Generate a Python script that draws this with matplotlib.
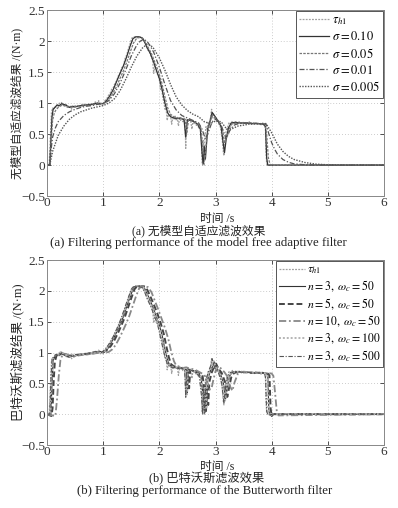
import matplotlib
matplotlib.use("Agg")
import matplotlib.pyplot as plt

plt.rcParams['font.family'] = ['Liberation Serif', 'Noto Sans CJK SC', 'DejaVu Sans']
plt.rcParams['mathtext.fontset'] = 'stix'
plt.rcParams['axes.unicode_minus'] = True

# ---------------- data ----------------
# reference torque tau_h1 (raw)
t_raw = [0, 0.04, 0.06, 0.08, 0.10, 0.12, 0.14, 0.16, 0.18, 0.20, 0.22, 0.24, 0.26, 0.28,
         0.30, 0.32, 0.34, 0.36, 0.38, 0.40, 0.42, 0.44, 0.46, 0.48, 0.50, 0.53, 0.56, 0.59,
         0.62, 0.65, 0.68, 0.71, 0.74, 0.77, 0.80, 0.83, 0.86, 0.89, 0.92, 0.95, 0.98, 1.00,
         1.03, 1.06, 1.09, 1.12, 1.15, 1.18, 1.21, 1.24, 1.27, 1.30, 1.33, 1.36, 1.39, 1.42,
         1.45, 1.48, 1.51, 1.55, 1.60, 1.65, 1.70, 1.73, 1.76, 1.79, 1.82, 1.85, 1.88, 1.90,
         1.92, 1.95, 1.98, 2.00, 2.02, 2.04, 2.06, 2.08, 2.10, 2.12, 2.14, 2.16, 2.18, 2.20,
         2.22, 2.24, 2.26, 2.28, 2.30, 2.32, 2.34, 2.36, 2.38, 2.40, 2.42, 2.44, 2.46, 2.47,
         2.48, 2.50, 2.52, 2.54, 2.56, 2.58, 2.60, 2.62, 2.64, 2.66, 2.68, 2.70, 2.72, 2.74,
         2.75, 2.76, 2.77, 2.78, 2.79, 2.80, 2.81, 2.83, 2.85, 2.87, 2.89, 2.91, 2.93, 2.94,
         2.96, 2.98, 3.00, 3.02, 3.04, 3.06, 3.08, 3.10, 3.12, 3.14, 3.15, 3.16, 3.18, 3.20,
         3.22, 3.24, 3.27, 3.30, 3.33, 3.36, 3.39, 3.42, 3.45, 3.48, 3.51, 3.54, 3.57, 3.60,
         3.63, 3.66, 3.69, 3.72, 3.75, 3.78, 3.81, 3.84, 3.87, 3.88, 3.89, 3.90, 3.91, 3.92,
         4.00, 6.00]
tau_raw = [0, 0.0, 0.45, 0.85, 0.92, 0.89, 0.95, 0.93, 0.97, 0.94, 1.00, 0.96, 1.01, 0.97,
           0.99, 0.95, 0.98, 0.93, 0.96, 0.92, 0.95, 0.90, 0.96, 0.93, 0.96, 0.94, 0.97, 0.95,
           0.98, 0.96, 0.99, 0.96, 0.99, 0.97, 1.00, 0.98, 1.02, 0.99, 1.04, 0.98, 1.00, 0.98,
           1.04, 1.06, 1.12, 1.15, 1.22, 1.25, 1.32, 1.36, 1.44, 1.48, 1.57, 1.60, 1.72, 1.78,
           1.88, 1.96, 2.05, 2.07, 2.06, 2.07, 2.05, 2.00, 1.96, 1.86, 1.84, 1.76, 1.70, 1.48,
           1.60, 1.50, 1.44, 1.38, 1.22, 1.26, 1.10, 1.02, 0.90, 0.92, 0.72, 0.82, 0.78, 0.80,
           0.66, 0.77, 0.74, 0.79, 0.73, 0.77, 0.63, 0.76, 0.72, 0.75, 0.70, 0.76, 0.62, 0.27,
           0.70, 0.75, 0.71, 0.74, 0.70, 0.58, 0.72, 0.67, 0.70, 0.64, 0.67, 0.60, 0.64, 0.50,
           0.40, 0.05, 0.00, 0.40, 0.05, 0.00, 0.45, 0.62, 0.58, 0.70, 0.66, 0.76, 0.90, 0.76,
           0.84, 0.74, 0.78, 0.70, 0.73, 0.66, 0.64, 0.55, 0.42, 0.20, 0.15, 0.35, 0.50, 0.60,
           0.62, 0.69, 0.66, 0.71, 0.67, 0.70, 0.66, 0.70, 0.67, 0.70, 0.66, 0.69, 0.67, 0.70,
           0.66, 0.69, 0.66, 0.68, 0.66, 0.68, 0.65, 0.68, 0.65, 0.66, 0.55, 0.20, 0.02, 0,
           0, 0]

# model-free adaptive filter outputs
t_s10 = [0, 0.05, 0.07, 0.09, 0.11, 0.14, 0.18, 0.22, 0.26, 0.30, 0.35, 0.40, 0.45, 0.50,
         0.60, 0.70, 0.80, 0.90, 1.00, 1.06, 1.12, 1.18, 1.24, 1.30, 1.36, 1.42, 1.48, 1.53,
         1.58, 1.64, 1.70, 1.74, 1.78, 1.84, 1.90, 1.96, 2.00, 2.05, 2.10, 2.15, 2.20, 2.26,
         2.32, 2.38, 2.44, 2.47, 2.50, 2.56, 2.62, 2.68, 2.73, 2.76, 2.78, 2.80, 2.82, 2.86,
         2.90, 2.94, 2.98, 3.04, 3.10, 3.13, 3.16, 3.19, 3.23, 3.28, 3.35, 3.45, 3.55, 3.65,
         3.75, 3.85, 3.89, 3.91, 3.93, 4.00, 6.00]
v_s10 = [0, 0.0, 0.40, 0.78, 0.90, 0.93, 0.97, 0.96, 0.99, 0.98, 0.96, 0.93, 0.95, 0.94,
         0.96, 0.97, 0.98, 1.00, 0.99, 1.04, 1.12, 1.22, 1.35, 1.48, 1.60, 1.75, 1.92, 2.04,
         2.07, 2.07, 2.05, 1.98, 1.90, 1.80, 1.66, 1.50, 1.40, 1.22, 1.00, 0.84, 0.78, 0.76,
         0.75, 0.76, 0.73, 0.45, 0.73, 0.72, 0.70, 0.66, 0.58, 0.20, 0.02, 0.30, 0.10, 0.58,
         0.70, 0.85, 0.80, 0.72, 0.62, 0.40, 0.20, 0.42, 0.60, 0.68, 0.69, 0.68, 0.68, 0.67,
         0.67, 0.66, 0.62, 0.12, 0.0, 0, 0]

t_s05 = [0, 0.05, 0.08, 0.10, 0.13, 0.16, 0.20, 0.25, 0.30, 0.35, 0.40, 0.45, 0.50, 0.60,
         0.70, 0.80, 0.90, 1.00, 1.06, 1.12, 1.18, 1.24, 1.30, 1.36, 1.42, 1.48, 1.54, 1.60,
         1.66, 1.72, 1.76, 1.80, 1.86, 1.92, 1.98, 2.04, 2.10, 2.15, 2.20, 2.26, 2.32, 2.40,
         2.46, 2.49, 2.52, 2.60, 2.68, 2.74, 2.78, 2.81, 2.84, 2.88, 2.94, 3.00, 3.06, 3.12,
         3.16, 3.20, 3.25, 3.30, 3.40, 3.50, 3.60, 3.70, 3.80, 3.88, 3.91, 3.94, 3.97, 4.03, 6.00]
v_s05 = [0, 0.0, 0.45, 0.72, 0.84, 0.89, 0.93, 0.96, 0.96, 0.95, 0.93, 0.94, 0.94, 0.95,
         0.96, 0.97, 0.99, 0.99, 1.02, 1.08, 1.17, 1.27, 1.40, 1.52, 1.66, 1.82, 1.97, 2.05,
         2.06, 2.03, 1.97, 1.90, 1.80, 1.66, 1.52, 1.34, 1.10, 0.92, 0.82, 0.78, 0.76, 0.75,
         0.74, 0.52, 0.73, 0.71, 0.67, 0.60, 0.25, 0.08, 0.40, 0.62, 0.80, 0.76, 0.70, 0.60,
         0.35, 0.45, 0.60, 0.67, 0.68, 0.68, 0.68, 0.67, 0.67, 0.66, 0.50, 0.12, 0.01, 0, 0]

t_s01 = [0, 0.05, 0.08, 0.10, 0.15, 0.20, 0.30, 0.40, 0.50, 0.60, 0.70, 0.80, 0.90, 1.00,
         1.10, 1.20, 1.30, 1.40, 1.50, 1.60, 1.66, 1.72, 1.78, 1.84, 1.90, 2.00, 2.10, 2.20,
         2.30, 2.40, 2.50, 2.60, 2.70, 2.76, 2.82, 2.88, 2.94, 3.00, 3.08, 3.14, 3.19, 3.25,
         3.32, 3.40, 3.60, 3.80, 3.90, 3.95, 4.00, 4.05, 4.10, 4.20, 4.30, 4.40, 4.60, 4.80, 6.00]
v_s01 = [0, 0.0, 0.30, 0.45, 0.60, 0.70, 0.80, 0.86, 0.90, 0.93, 0.95, 0.96, 0.98, 0.99,
         1.04, 1.15, 1.32, 1.53, 1.76, 1.94, 2.00, 2.03, 2.00, 1.92, 1.82, 1.58, 1.30, 1.04,
         0.89, 0.80, 0.76, 0.72, 0.68, 0.58, 0.42, 0.55, 0.70, 0.74, 0.68, 0.55, 0.42, 0.55,
         0.64, 0.67, 0.68, 0.67, 0.66, 0.50, 0.36, 0.26, 0.18, 0.09, 0.045, 0.02, 0.006, 0.0, 0]

t_s005 = [0, 0.05, 0.10, 0.20, 0.30, 0.40, 0.50, 0.60, 0.80, 1.00, 1.10, 1.20, 1.30, 1.40,
          1.50, 1.60, 1.70, 1.78, 1.85, 1.90, 2.00, 2.10, 2.20, 2.30, 2.40, 2.50, 2.60, 2.70,
          2.80, 2.90, 3.00, 3.10, 3.20, 3.30, 3.40, 3.60, 3.90, 4.00, 4.10, 4.20, 4.30, 4.40,
          4.60, 4.80, 5.00, 5.30, 6.00]
v_s005 = [0, 0.0, 0.22, 0.48, 0.63, 0.74, 0.81, 0.86, 0.92, 0.96, 1.00, 1.07, 1.20, 1.38,
          1.58, 1.76, 1.89, 1.95, 1.93, 1.88, 1.73, 1.53, 1.30, 1.10, 0.97, 0.88, 0.82, 0.78,
          0.70, 0.67, 0.71, 0.70, 0.58, 0.59, 0.63, 0.66, 0.67, 0.52, 0.34, 0.22, 0.14, 0.09,
          0.04, 0.015, 0.005, 0.0, 0]

# Butterworth filter outputs
t_b3_50 = [0, 0.07, 0.09, 0.11, 0.14, 0.18, 0.22, 0.26, 0.30, 0.35, 0.40, 0.45, 0.50, 0.55,
           0.62, 0.70, 0.78, 0.86, 0.94, 1.00, 1.06, 1.12, 1.18, 1.24, 1.30, 1.36, 1.42, 1.48,
           1.54, 1.58, 1.66, 1.72, 1.76, 1.82, 1.88, 1.94, 2.00, 2.05, 2.10, 2.14, 2.18, 2.24,
           2.30, 2.36, 2.42, 2.48, 2.50, 2.52, 2.58, 2.66, 2.74, 2.78, 2.80, 2.82, 2.84, 2.86,
           2.90, 2.95, 2.98, 3.02, 3.08, 3.14, 3.18, 3.21, 3.25, 3.30, 3.40, 3.50, 3.60, 3.70,
           3.80, 3.90, 3.93, 3.95, 3.97, 4.00, 6.00]
v_b3_50 = [0, 0.0, 0.50, 0.88, 0.93, 0.97, 0.95, 1.00, 0.97, 0.95, 0.92, 0.96, 0.94, 0.97,
           0.96, 0.98, 0.98, 1.00, 1.02, 1.00, 1.03, 1.12, 1.22, 1.33, 1.45, 1.58, 1.75, 1.90,
           2.05, 2.08, 2.08, 2.07, 2.00, 1.88, 1.75, 1.60, 1.45, 1.28, 1.05, 0.90, 0.80, 0.77,
           0.76, 0.74, 0.75, 0.72, 0.35, 0.72, 0.72, 0.68, 0.62, 0.30, 0.02, 0.45, 0.10, 0.55,
           0.68, 0.78, 0.85, 0.74, 0.68, 0.50, 0.25, 0.45, 0.62, 0.68, 0.69, 0.68, 0.68, 0.67,
           0.67, 0.66, 0.64, 0.05, -0.02, 0, 0]

t_b5_50 = [0, 0.08, 0.10, 0.12, 0.14, 0.17, 0.21, 0.25, 0.29, 0.33, 0.38, 0.43, 0.48, 0.53,
           0.60, 0.68, 0.76, 0.84, 0.92, 1.00, 1.08, 1.14, 1.20, 1.26, 1.32, 1.38, 1.44, 1.50,
           1.56, 1.61, 1.69, 1.75, 1.79, 1.85, 1.91, 1.97, 2.03, 2.08, 2.13, 2.17, 2.21, 2.27,
           2.33, 2.39, 2.45, 2.51, 2.53, 2.55, 2.61, 2.69, 2.77, 2.81, 2.83, 2.85, 2.87, 2.89,
           2.93, 2.98, 3.01, 3.05, 3.11, 3.17, 3.21, 3.24, 3.28, 3.33, 3.43, 3.53, 3.63, 3.73,
           3.83, 3.93, 3.96, 3.98, 4.00, 4.03, 6.00]
v_b5_50 = [0, -0.03, 0.10, 0.55, 0.85, 0.95, 0.97, 0.99, 0.98, 0.96, 0.93, 0.95, 0.95, 0.96,
           0.97, 0.97, 0.99, 0.99, 1.01, 1.00, 1.05, 1.11, 1.20, 1.31, 1.43, 1.56, 1.72, 1.88,
           2.03, 2.08, 2.08, 2.07, 2.01, 1.89, 1.76, 1.62, 1.46, 1.30, 1.08, 0.92, 0.81, 0.77,
           0.76, 0.75, 0.74, 0.73, 0.42, 0.72, 0.71, 0.68, 0.62, 0.35, 0.05, 0.40, 0.15, 0.52,
           0.67, 0.78, 0.82, 0.74, 0.67, 0.52, 0.28, 0.42, 0.60, 0.67, 0.69, 0.68, 0.67, 0.67,
           0.67, 0.66, 0.63, 0.10, -0.03, 0, 0]

t_b10_50 = [0, 0.15, 0.18, 0.21, 0.24, 0.28, 0.32, 0.36, 0.40, 0.45, 0.50, 0.55, 0.60, 0.66,
            0.72, 0.80, 0.88, 0.96, 1.04, 1.10, 1.16, 1.22, 1.28, 1.34, 1.40, 1.46, 1.52, 1.58,
            1.64, 1.70, 1.76, 1.80, 1.86, 1.92, 1.98, 2.04, 2.10, 2.16, 2.21, 2.26, 2.30, 2.36,
            2.42, 2.48, 2.54, 2.60, 2.66, 2.72, 2.80, 2.86, 2.90, 2.93, 2.96, 3.00, 3.05, 3.10,
            3.16, 3.22, 3.26, 3.30, 3.34, 3.40, 3.50, 3.60, 3.70, 3.80, 3.90, 4.00, 4.03, 4.06,
            4.09, 4.12, 6.00]
v_b10_50 = [0, -0.03, 0.25, 0.62, 0.88, 0.97, 0.98, 0.97, 0.95, 0.93, 0.94, 0.95, 0.96, 0.97,
            0.97, 0.98, 0.99, 1.00, 1.00, 1.01, 1.05, 1.12, 1.22, 1.33, 1.45, 1.58, 1.74, 1.90,
            2.04, 2.08, 2.07, 2.06, 1.98, 1.84, 1.70, 1.55, 1.40, 1.22, 1.02, 0.86, 0.79, 0.77,
            0.75, 0.76, 0.74, 0.73, 0.71, 0.68, 0.64, 0.50, 0.40, 0.42, 0.55, 0.70, 0.78, 0.74,
            0.68, 0.60, 0.45, 0.38, 0.52, 0.66, 0.69, 0.68, 0.68, 0.67, 0.67, 0.66, 0.62, 0.35,
            0.05, -0.02, 0]

t_b3_100 = [0, 0.06, 0.08, 0.10, 0.13, 0.17, 0.21, 0.25, 0.29, 0.34, 0.39, 0.44, 0.49, 0.54,
            0.61, 0.69, 0.77, 0.85, 0.93, 0.99, 1.05, 1.11, 1.17, 1.23, 1.29, 1.35, 1.41, 1.47,
            1.53, 1.57, 1.65, 1.71, 1.75, 1.81, 1.87, 1.93, 1.99, 2.04, 2.09, 2.13, 2.17, 2.23,
            2.29, 2.35, 2.41, 2.47, 2.49, 2.51, 2.57, 2.65, 2.73, 2.77, 2.79, 2.81, 2.83, 2.85,
            2.89, 2.94, 2.97, 3.01, 3.07, 3.13, 3.17, 3.20, 3.24, 3.29, 3.39, 3.49, 3.59, 3.69,
            3.79, 3.89, 3.92, 3.94, 3.96, 3.99, 6.00]
v_b3_100 = [0, 0.0, 0.55, 0.90, 0.94, 0.98, 0.96, 1.02, 0.98, 0.96, 0.93, 0.97, 0.94, 0.97,
            0.97, 0.98, 0.99, 1.00, 1.02, 0.99, 1.04, 1.13, 1.23, 1.34, 1.46, 1.60, 1.76, 1.91,
            2.05, 2.08, 2.08, 2.07, 2.00, 1.87, 1.74, 1.60, 1.44, 1.26, 1.04, 0.89, 0.80, 0.77,
            0.76, 0.75, 0.75, 0.72, 0.32, 0.72, 0.72, 0.68, 0.62, 0.28, 0.01, 0.45, 0.08, 0.55,
            0.68, 0.80, 0.86, 0.74, 0.68, 0.50, 0.22, 0.45, 0.62, 0.68, 0.69, 0.68, 0.68, 0.67,
            0.67, 0.66, 0.64, 0.04, -0.01, 0, 0]

t_b3_500 = [0, 0.05, 0.07, 0.09, 0.12, 0.16, 0.20, 0.23, 0.27, 0.31, 0.36, 0.41, 0.46, 0.51,
            0.58, 0.66, 0.74, 0.82, 0.90, 0.97, 1.03, 1.09, 1.15, 1.21, 1.27, 1.33, 1.39, 1.45,
            1.51, 1.55, 1.63, 1.69, 1.73, 1.79, 1.85, 1.91, 1.97, 2.02, 2.07, 2.11, 2.15, 2.21,
            2.27, 2.33, 2.39, 2.45, 2.47, 2.49, 2.55, 2.63, 2.71, 2.75, 2.77, 2.79, 2.81, 2.83,
            2.87, 2.92, 2.94, 2.99, 3.05, 3.11, 3.15, 3.18, 3.22, 3.27, 3.37, 3.47, 3.57, 3.67,
            3.77, 3.87, 3.89, 3.91, 3.93, 3.96, 6.00]
v_b3_500 = [0, 0.0, 0.55, 0.90, 0.93, 0.97, 0.95, 1.00, 0.97, 0.96, 0.92, 0.96, 0.94, 0.97,
            0.96, 0.98, 0.98, 1.01, 1.02, 1.00, 1.05, 1.12, 1.20, 1.32, 1.44, 1.58, 1.74, 1.90,
            2.04, 2.07, 2.07, 2.06, 2.00, 1.86, 1.74, 1.60, 1.45, 1.25, 1.04, 0.90, 0.80, 0.76,
            0.76, 0.74, 0.75, 0.72, 0.28, 0.71, 0.72, 0.68, 0.62, 0.30, 0.00, 0.40, 0.02, 0.55,
            0.68, 0.80, 0.90, 0.74, 0.68, 0.50, 0.18, 0.45, 0.62, 0.68, 0.69, 0.68, 0.68, 0.67,
            0.67, 0.66, 0.60, 0.05, 0.0, 0, 0]

labels_a = [r'$\tau_{h1}$', r'$\sigma=0.10$', r'$\sigma=0.05$', r'$\sigma=0.01$', r'$\sigma=0.005$']
labels_b = [r'$\tau_{h1}$', r'$n=3,\ \omega_c=50$', r'$n=5,\ \omega_c=50$',
            r'$n=10,\ \omega_c=50$', r'$n=3,\ \omega_c=100$', r'$n=3,\ \omega_c=500$']
xticks = [0, 1, 2, 3, 4, 5, 6]
yticks = [-0.5, 0, 0.5, 1, 1.5, 2, 2.5]
ytick_labels = ['\u22120.5', '0', '0.5', '1', '1.5', '2', '2.5']

# ---------------- figure ----------------
fig = plt.figure(figsize=(3.98, 5.08), dpi=100)
ax1 = fig.add_axes([0.118, 0.614, 0.847, 0.366])
ax2 = fig.add_axes([0.118, 0.124, 0.847, 0.364])

def style(ax):
    ax.set_xlim(0, 6)
    ax.set_ylim(-0.5, 2.5)
    ax.set_xticks(xticks)
    ax.set_xticklabels([str(x) for x in xticks])
    ax.set_yticks(yticks)
    ax.set_yticklabels(ytick_labels)
    ax.tick_params(direction='in', length=3, width=0.6, labelsize=9.5, colors='#333333',
                   pad=1.5, top=True, right=True)
    ax.tick_params(axis='x', pad=0.5)
    ax.grid(True, linestyle=(0, (1, 2.5)), color='#bbbbbb', linewidth=0.6)
    for s in ax.spines.values():
        s.set_color('#888888')
        s.set_linewidth(0.7)

# panel (a)
ax1.plot(t_raw, tau_raw, color='#a0a0a0', lw=0.9, ls=(0, (1.5, 1)), label=labels_a[0])
ax1.plot(t_s10, v_s10, color='#333333', lw=0.9, ls='-', label=labels_a[1])
ax1.plot(t_s05, v_s05, color='#777777', lw=0.9, ls=(0, (2, 1)), label=labels_a[2])
ax1.plot(t_s01, v_s01, color='#555555', lw=0.9, ls=(0, (4, 1.5, 1, 1.5)), label=labels_a[3])
ax1.plot(t_s005, v_s005, color='#555555', lw=1.0, ls=(0, (1, 1)), label=labels_a[4])
style(ax1)
leg1 = ax1.legend(loc='upper right', fontsize=9, handlelength=2.4, handletextpad=0.2,
                  borderpad=0.3, labelspacing=0.25, borderaxespad=0.05, fancybox=False,
                  framealpha=1, edgecolor='#555555')
leg1.get_frame().set_linewidth(0.7)

# panel (b)
ax2.plot(t_raw, tau_raw, color='#a0a0a0', lw=0.9, ls=(0, (1.5, 1)), label=labels_b[0])
ax2.plot(t_b3_50, v_b3_50, color='#333333', lw=0.8, ls='-', label=labels_b[1])
ax2.plot(t_b5_50, v_b5_50, color='#444444', lw=1.4, ls=(0, (3, 1.5)), label=labels_b[2])
ax2.plot(t_b10_50, v_b10_50, color='#888888', lw=1.3, ls=(0, (4, 1.5, 1, 1.5)), label=labels_b[3])
ax2.plot(t_b3_100, v_b3_100, color='#b5b5b5', lw=1.4, ls=(0, (1, 1)), label=labels_b[4])
ax2.plot(t_b3_500, v_b3_500, color='#555555', lw=0.8, ls=(0, (4, 1.5, 1, 1.5)), label=labels_b[5])
style(ax2)
leg2 = ax2.legend(loc='upper right', fontsize=8.5, handlelength=2.2, handletextpad=0.15,
                  borderpad=0.25, labelspacing=0.18, borderaxespad=0.05, fancybox=False,
                  framealpha=1, edgecolor='#555555')
leg2.get_frame().set_linewidth(0.7)

# labels
fam = ['Liberation Serif', 'Noto Sans CJK SC']
fig.text(0.043, 0.797, '无模型自适应滤波结果 /(N·m)', rotation=90, ha='center', va='center',
         fontsize=8.4, family=fam, color='#222222')
fig.text(0.043, 0.306, '巴特沃斯滤波结果 /(N·m)', rotation=90, ha='center', va='center',
         fontsize=9, family=fam, color='#222222')
fig.text(0.545, 1 - 219 / 508, '时间 /s', ha='center', va='center', fontsize=8.5, family=fam, color='#222222')
fig.text(0.50, 1 - 231 / 508, '(a) 无模型自适应滤波效果', ha='center', va='center', fontsize=8.5, family=fam, color='#222222')
fig.text(0.499, 1 - 243 / 508, '(a) Filtering performance of the model free adaptive filter',
         ha='center', va='center', fontsize=9.3, family=fam, color='#222222')
fig.text(0.545, 1 - 467 / 508, '时间 /s', ha='center', va='center', fontsize=8.5, family=fam, color='#222222')
fig.text(0.52, 1 - 479 / 508, '(b) 巴特沃斯滤波效果', ha='center', va='center', fontsize=8.8, family=fam, color='#222222')
fig.text(0.515, 1 - 491 / 508, '(b) Filtering performance of the Butterworth filter',
         ha='center', va='center', fontsize=9.2, family=fam, color='#222222')

fig.savefig('out.png', dpi=100, facecolor='white')
